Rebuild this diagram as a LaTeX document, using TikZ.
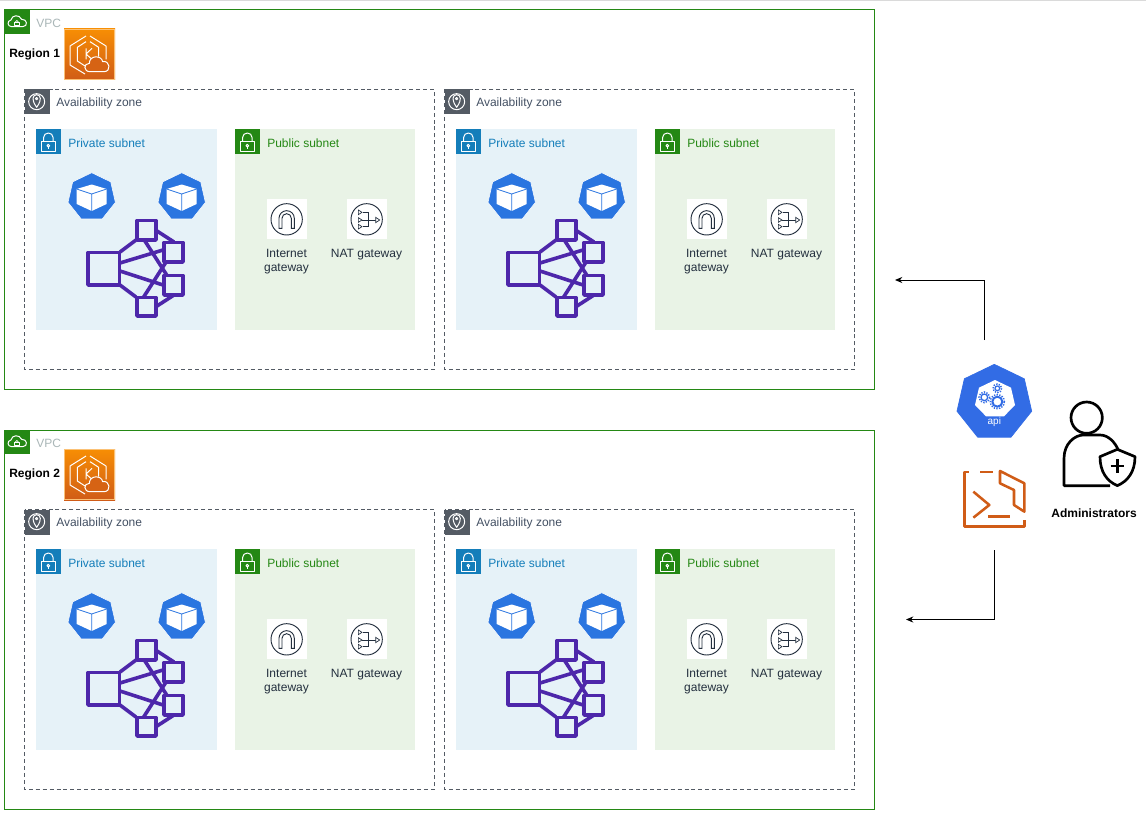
\documentclass[tikz,border=0pt]{standalone}
\usepackage{fontspec}
\setmainfont{Liberation Sans}
\usetikzlibrary{arrows.meta}
\definecolor{awsgreen}{HTML}{248814}
\definecolor{awsblue}{HTML}{147EBA}
\definecolor{awsgrey}{HTML}{545B64}
\definecolor{vpctext}{HTML}{AAB7B8}
\definecolor{azonetext}{HTML}{5A6C86}
\definecolor{privfill}{HTML}{E6F2F8}
\definecolor{pubfill}{HTML}{E9F3E6}
\definecolor{kblue}{HTML}{2A75E0}
\definecolor{apiblue}{HTML}{326CE5}
\definecolor{netpurple}{HTML}{4D27AA}
\definecolor{gwdark}{HTML}{232F3E}
\definecolor{termorange}{HTML}{D05C17}
\definecolor{ekstop}{HTML}{F78E04}
\definecolor{topline}{HTML}{DADADA}
\newcommand{\txt}{\fontsize{9}{10.5}\selectfont}
\tikzset{
  vpcbox/.style={draw=awsgreen,line width=.75pt},
  azbox/.style={draw=awsgrey,line width=.6pt,dash pattern=on 3pt off 2.2pt},
  label/.style={inner sep=0pt,anchor=west,font=\txt},
  gwlabel/.style={inner sep=0pt,align=center,font=\txt,text=gwdark,anchor=north},
  netline/.style={draw=netpurple,line width=2.7pt},
  netsq/.style={draw=netpurple,line width=2.7pt,line join=round},
  glyph/.style={draw=white,line width=.75pt,line join=round},
  gwline/.style={draw=gwdark,line width=.7pt},
  flow/.style={draw=black,line width=.75pt,-{Stealth[length=5.5pt,width=4.6pt]}},
  termline/.style={draw=termorange,line width=1.9pt,line join=round},
  adminline/.style={draw=black,line width=2pt,line join=round},
}
\newcommand{\lockglyph}{%
  \draw[glyph] (17,37) rectangle (57,67);
  \draw[glyph] (23,37) -- (23,25) arc[start angle=180,end angle=360,x radius=14,y radius=13] -- (51,37);
  \draw[glyph] (37,50) circle[radius=4];
  \draw[glyph] (37,54) -- (37,61);
}
\newcommand{\podicon}[2]{%
  \begin{scope}[shift={(#1,#2)}]
    \filldraw[fill=kblue,draw=white,line width=.4pt,line join=round]
      (-90:24.3) -- (-38.57:24.3) -- (12.86:24.3) -- (64.29:24.3) -- (115.71:24.3) -- (167.14:24.3) -- (218.57:24.3) -- cycle;
    \fill[white] (0,-12.5) -- (15,-8) -- (15,7) -- (0,14) -- (-15,7) -- (-15,-8) -- cycle;
    \draw[kblue,line width=.6pt] (-15,-8) -- (0,-3) -- (15,-8) (0,-3) -- (0,14);
  \end{scope}}
\newcommand{\eksicon}[1]{%
  \fill[top color=ekstop,bottom color=termorange] (64,29+#1) rectangle (115,80+#1);
  \draw[ekstop!55!white,line width=.4pt] (64.3,29.3+#1) rectangle (114.7,79.7+#1);
  \begin{scope}[shift={(0,#1)},x=.25pt,y=-.25pt]
    \draw[glyph] (258,108) -- (210,138) -- (210,195) -- (255,222);
    \draw[glyph] (270,108) -- (318,138) -- (318,178);
    \draw[glyph] (258,125) -- (232,142) -- (232,183) -- (255,198);
    \draw[glyph] (270,125) -- (296,142) -- (296,170);
    \draw[glyph] (258,145) -- (258,178) (276,145) -- (258,162) -- (276,178);
    \filldraw[glyph,fill=termorange!85!ekstop] (270,215) .. controls (250,215) and (250,190) .. (268,190)
       .. controls (268,165) and (305,165) .. (308,185) .. controls (330,180) and (335,215) .. (312,215) -- cycle;
  \end{scope}}
\begin{document}
\begin{tikzpicture}[x=.75pt,y=-.75pt]
\useasboundingbox (0,0) rectangle (1146,817);
\fill[white] (0,0) rectangle (1146,817);
\fill[topline] (0,0) rectangle (1146,1.5);
\foreach \dy/\rg in {0/1,420/2}{
  \draw[vpcbox] (4.5,10+\dy) rectangle (874.5,389.5+\dy);
  \fill[awsgreen] (4.5,10+\dy) rectangle (29.5,34+\dy);
  \begin{scope}[shift={(0,\dy)},x=.25pt,y=-.25pt]
    \draw[glyph] (35,80) .. controls (22,80) and (20,62) .. (33,60) .. controls (35,45) and (58,42) .. (65,58)
      .. controls (82,56) and (85,80) .. (68,80) -- cycle;
    \draw[glyph,line width=.6pt] (44,66) rectangle (57,75);
    \draw[glyph,line width=.6pt] (46,66) arc[start angle=180,end angle=360,radius=4.5];
  \end{scope}
  \node[label,text=vpctext] (vpclabel\rg) at (36,23+\dy) {VPC};
  \node[label,font=\txt\bfseries,text=black] (region\rg) at (9,54.5+\dy) {Region \rg};
  \eksicon{\dy}
  \foreach \dx/\zn in {0/a,420/b}{
    \begin{scope}[shift={(\dx,\dy)}]
      \draw[azbox] (24.5,89.5) rectangle (434.5,369.5);
      \fill[awsgrey] (25,89.5) rectangle (50,114.5);
      \begin{scope}[x=.25pt,y=-.25pt]
        \draw[glyph] (110,305) circle[radius=24];
        \draw[glyph] (110,322) .. controls (100,308) and (99,300) .. (99,295)
          arc[start angle=180,end angle=360,radius=11] .. controls (121,300) and (120,308) .. (110,322) -- cycle;
        \draw[glyph] (110,296) circle[radius=3.5];
      \end{scope}
      \node[label,text=azonetext!75!black] (azlabel\rg\zn) at (56,103.5) {Availability zone};
      % private subnet
      \fill[privfill] (36,129) rectangle (216.5,329.5);
      \fill[awsblue] (36,129) rectangle (61,154);
      \begin{scope}[shift={(36,129)},x=.25pt,y=-.25pt]
        \lockglyph
      \end{scope}
      \node[label,text=awsblue] (privlabel\rg\zn) at (68,143.5) {Private subnet};
      \podicon{91.7}{197}
      \podicon{181.7}{197}
      % cluster
      \draw[netline] (120,252) -- (136,240) (120,263) -- (163,250) (120,271) -- (163,285) (120,285) -- (136,297)
        (157,231) -- (174,242) (157,306) -- (174,295)
        (143,238) -- (168,277) (143,298) -- (168,259);
      \draw[netsq,fill=privfill] (88,252.5) rectangle (119.5,285);
      \draw[netsq,fill=privfill] (137,220.5) rectangle (156,240);
      \draw[netsq,fill=privfill] (164,242.5) rectangle (183,262);
      \draw[netsq,fill=privfill] (164,275.5) rectangle (183,295);
      \draw[netsq,fill=privfill] (137,297.5) rectangle (156,316);
      % public subnet
      \fill[pubfill] (235,129) rectangle (414.5,329.5);
      \fill[awsgreen] (235,129) rectangle (260,154);
      \begin{scope}[shift={(235,129)},x=.25pt,y=-.25pt]
        \lockglyph
      \end{scope}
      \node[label,text=awsgreen] (publabel\rg\zn) at (267,143.5) {Public subnet};
      \fill[white] (266.7,199.3) rectangle (306.7,239.3);
      \fill[white] (346.7,199.3) rectangle (386.7,239.3);
      \begin{scope}[shift={(230,125)},x=.25pt,y=-.25pt]
        \draw[gwline] (170,283) circle[radius=47];
        \draw[gwline] (147,310) -- (147,280) arc[start angle=180,end angle=360,radius=23] -- (193,310) -- (184,310) -- (184,280)
          arc[start angle=360,end angle=180,radius=14] -- (156,310) -- cycle;
        \draw[gwline] (410,283) circle[radius=47];
        \draw[gwline] (398,262) -- (414,262) -- (414,305) -- (398,305) (396,285) -- (437,285);
        \foreach \ty in {262,285,305}{\filldraw[gwline,fill=white,line width=.5pt] (385,\ty-7) -- (396,\ty) -- (385,\ty+7) -- cycle;}
        \filldraw[gwline,fill=white,line width=.5pt] (437,277) -- (449,285) -- (437,293) -- cycle;
      \end{scope}
      \node[gwlabel] (igw\rg\zn) at (286.5,248.5) {Internet\\gateway};
      \node[gwlabel] (nat\rg\zn) at (366.5,248.5) {NAT gateway};
    \end{scope}
  }
}
% kubernetes API
\begin{scope}[shift={(940,355)},x=.25pt,y=-.25pt]
  \fill[apiblue,line join=round,draw=apiblue,line width=.5pt] (163,28) -- (163+89.9,143-71.7) -- (163+112.1,143+25.6) -- (163+49.9,143+103.6) -- (163-49.9,143+103.6) -- (163-112.1,143+25.6) -- (163-89.9,143-71.7) -- cycle;
  \fill[white] (165,75) -- (213,98) -- (225,150) -- (192,184) -- (138,184) -- (105,150) -- (117,98) -- cycle;
  \foreach \gx/\gy/\gr/\gw in {133/127/10/1,172/100/7/.9,172/140/15/1.5}{
    \draw[apiblue,line width=\gw pt] (\gx,\gy) circle[radius=\gr];
    \draw[apiblue,line width=1.1pt,dash pattern=on 1pt off 1pt] (\gx,\gy) circle[radius=\gr+6];
  }
  \node[inner sep=0pt,text=white,font=\fontsize{7.5}{9}\selectfont] (api) at (163,201) {api};
\end{scope}
% terminal
\begin{scope}[shift={(940,355)},x=.25pt,y=-.25pt]
  \draw[termline] (86,351) -- (74,351) -- (74,515) -- (253,515) -- (253,495);
  \draw[termline] (120,351) -- (158,351);
  \draw[termline] (180,348) -- (180,385) -- (222,405) -- (222,450) -- (253,470) -- (253,385) -- cycle;
  \draw[termline] (100,410) -- (148,450) -- (100,488);
  \draw[termline] (145,485) -- (210,485);
  % administrator
  \draw[adminline] (440,188) circle[radius=47];
  \draw[adminline] (510,392) -- (372,392) -- (372,310) .. controls (372,265) and (405,240) .. (430,240) -- (480,240) .. controls (505,240) and (525,262) .. (535,285);
  \filldraw[adminline,fill=white] (532,283) -- (480,305) .. controls (480,350) and (500,378) .. (532,392) .. controls (564,378) and (585,350) .. (585,305) -- cycle;
  \draw[black,line width=2.2pt] (532,313) -- (532,353) (512,333) -- (552,333);
\end{scope}
\node[inner sep=0pt,font=\txt\bfseries] (admins) at (1094,513) {Administrators};
% connectors
\coordinate (a1s) at (984.5,340);
\coordinate (a1e) at (895,280);
\coordinate (a2s) at (994.5,550);
\coordinate (a2e) at (906,619.5);
\draw[flow] (a1s) |- (a1e);
\draw[flow] (a2s) |- (a2e);
\end{tikzpicture}
\end{document}
